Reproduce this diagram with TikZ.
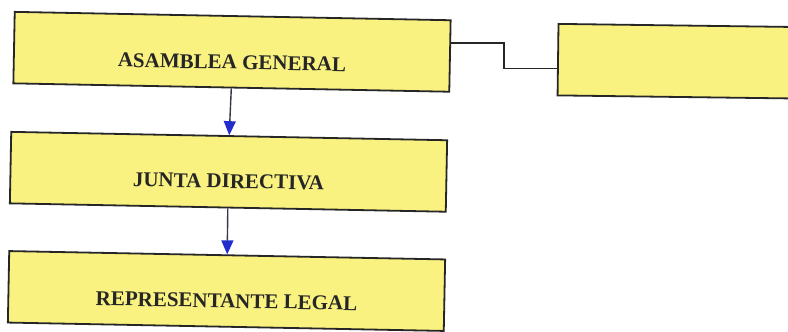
\documentclass[tikz,border=0pt]{standalone}
\usepackage{fontspec}
\setmainfont{Liberation Serif}
\usetikzlibrary{arrows.meta,calc}
\definecolor{boxyellow}{RGB}{250,242,128}
\definecolor{tipblue}{RGB}{35,45,205}
\definecolor{shaft}{RGB}{55,55,70}
\tikzset{
 orgbox/.style={draw=black!85, line width=1.8pt, fill=boxyellow, minimum width=436pt, minimum height=71.5pt, inner sep=0pt, rotate=-1.1},
 orglbl/.style={font=\bfseries\fontsize{21}{24}\selectfont, text=black!85, inner sep=0pt, rotate=-1.1},
 link/.style={draw=black!85, line width=1.4pt},
 downarrow/.style={draw=shaft, line width=1.4pt, -{Triangle[width=12pt,length=14pt,color=tipblue]}}
}
\begin{document}
\begin{tikzpicture}[x=1pt,y=-1pt]
\useasboundingbox (0,0) rectangle (788,332);
\fill[white] (0,0) rectangle (788,332);
\node[orgbox] (ag) at (232,51.8) {};
\node[orgbox] (jd) at (228.5,171.8) {};
\node[orgbox] (rl) at (226.5,291) {};
\node[orgbox, rotate=0.35] (ext) at (776,62.5) {};
\node[orglbl] (tag) at ([yshift=-10.5pt]ag.center) {ASAMBLEA GENERAL};
\node[orglbl] (tjd) at ([yshift=-9.5pt]jd.center) {JUNTA DIRECTIVA};
\node[orglbl] (trl) at ([yshift=-10pt]rl.center) {REPRESENTANTE LEGAL};
\coordinate (p1) at ($(ag.north east)!0.32!(ag.south east)$);
\coordinate (p2) at ($(ext.north west)!0.62!(ext.south west)$);
\draw[link] (p1) -| ($(p1)!.5!(p2)$) |- (p2);
\draw[downarrow] (ag.south) -- (jd.north);
\draw[downarrow] (jd.south) -- (rl.north);
\end{tikzpicture}
\end{document}
